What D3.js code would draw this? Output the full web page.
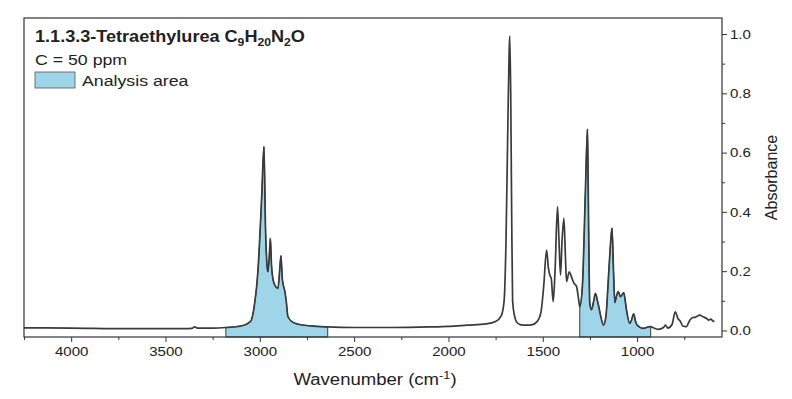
<!DOCTYPE html>
<html>
<head>
<meta charset="utf-8">
<script src="https://cdn.jsdelivr.net/npm/d3@7"></script>
<style>
    body { margin: 0; background: #fff; }
    text { font-family: "Liberation Sans", Arial, sans-serif; fill: #222; }
</style>
</head>
<body>
<div id="chart"></div>
<script>
// spectrum (wavenumber cm-1 / absorbance)
const wavenumbers = [4250, 4000, 3700, 3400, 3360, 3346, 3330, 3250, 3180, 3100, 3050, 3030, 3010, 2990, 2978,
    2970, 2962, 2957, 2950, 2944, 2938, 2925, 2904, 2895, 2888, 2880, 2867, 2860, 2851, 2830, 2800, 2700, 2640,
    2500, 2300, 2100, 2000, 1900, 1800, 1750, 1720, 1705, 1695, 1685, 1678, 1675, 1670, 1665, 1660, 1650, 1640,
    1620, 1590, 1560, 1530, 1510, 1495, 1480, 1470, 1463, 1455, 1445, 1435, 1422, 1414, 1406, 1398, 1388, 1380,
    1374, 1360, 1348, 1335, 1321, 1312, 1304, 1290, 1275, 1263, 1257, 1251, 1242, 1230, 1221, 1210, 1203, 1190,
    1178, 1165, 1150, 1140, 1133, 1125, 1118, 1110, 1100, 1088, 1071, 1063, 1056, 1039, 1030, 1018, 1008, 1000,
    968, 933, 889, 860, 850, 837, 815, 798, 784, 770, 758, 740, 720, 708, 690, 669, 650, 633, 620, 610, 598, 590];
const absorbance = [0.009, 0.008, 0.006, 0.006, 0.007, 0.012, 0.008, 0.008, 0.010, 0.015, 0.030, 0.080, 0.200, 0.450, 0.620,
    0.350, 0.220, 0.198, 0.250, 0.311, 0.220, 0.160, 0.142, 0.200, 0.252, 0.170, 0.131, 0.100, 0.047, 0.030, 0.022, 0.014, 0.012,
    0.010, 0.010, 0.012, 0.014, 0.018, 0.022, 0.030, 0.050, 0.100, 0.300, 0.700, 0.950, 0.993, 0.800, 0.400, 0.100, 0.050, 0.030,
    0.020, 0.018, 0.019, 0.030, 0.060, 0.150, 0.271, 0.210, 0.187, 0.175, 0.097, 0.200, 0.418, 0.300, 0.187, 0.300, 0.378, 0.250,
    0.165, 0.198, 0.181, 0.160, 0.148, 0.114, 0.080, 0.150, 0.450, 0.679, 0.350, 0.093, 0.070, 0.100, 0.125, 0.100, 0.080, 0.040,
    0.018, 0.050, 0.200, 0.300, 0.345, 0.200, 0.094, 0.115, 0.131, 0.114, 0.128, 0.100, 0.069, 0.024, 0.035, 0.056, 0.030, 0.018,
    0.007, 0.013, 0.004, 0.010, 0.018, 0.008, 0.020, 0.063, 0.041, 0.030, 0.015, 0.013, 0.035, 0.043, 0.045, 0.052, 0.046, 0.041, 0.035, 0.038, 0.032, 0.030];

// shaded analysis windows [from, to] in cm-1
const analysisAreas = [[3180, 2640], [1304, 928]];

const xTicks = [4000, 3500, 3000, 2500, 2000, 1500, 1000];
const yTicks = [0, 0.2, 0.4, 0.6, 0.8, 1.0];

const width = 792, height = 399;
const margin = {top: 18, right: 70, bottom: 62, left: 24};
const lineColor = '#3a3a3a', fillColor = '#9fd5e8';
// the source picture is a bit wider than tall, text included
const stretch = 1.16;

const spectrum = wavenumbers.map((w, i) => ({w: w, a: absorbance[i]}));

const svg = d3.select('#chart').append('svg')
    .attr('width', width)
    .attr('height', height);

const xScale = d3.scaleLinear()
    .domain([4250, 550])
    .range([margin.left, width - margin.right]);

const yScale = d3.scaleLinear()
    .domain([-0.022, 1.054])
    .range([height - margin.bottom, margin.top]);

// value of the curve at any wavenumber (linear between read points)
function absAt(w) {
    for (let i = 0; i < spectrum.length - 1; i++) {
        const p = spectrum[i], q = spectrum[i + 1];
        if (w <= p.w && w >= q.w) {
            return p.a + (q.a - p.a) * (p.w - w) / (p.w - q.w);
        }
    }
    return 0;
}

// text placed at (x,y) and widened like the source
function wideText(x, y, size) {
    return svg.append('g')
        .attr('transform', `translate(${x},${y}) scale(${stretch},1)`)
        .append('text')
        .attr('font-size', size);
}

// analysis areas
const area = d3.area()
    .x(d => xScale(d.w))
    .y0(yScale.range()[0])
    .y1(d => yScale(d.a))
    .curve(d3.curveMonotoneX);

analysisAreas.forEach(([from, to]) => {
    const pts = [{w: from, a: absAt(from)}]
        .concat(spectrum.filter(d => d.w < from && d.w > to))
        .concat([{w: to, a: absAt(to)}]);
    svg.append('path')
        .datum(pts)
        .attr('d', area)
        .attr('fill', fillColor)
        .attr('stroke', lineColor)
        .attr('stroke-width', 1);
});

// spectrum line
const line = d3.line()
    .x(d => xScale(d.w))
    .y(d => yScale(d.a))
    .curve(d3.curveMonotoneX);

svg.append('path')
    .datum(spectrum)
    .attr('d', line)
    .attr('fill', 'none')
    .attr('stroke', lineColor)
    .attr('stroke-width', 1.7)
    .attr('stroke-linejoin', 'round');

// frame
svg.append('rect')
    .attr('x', margin.left)
    .attr('y', margin.top)
    .attr('width', width - margin.left - margin.right)
    .attr('height', height - margin.top - margin.bottom)
    .attr('fill', 'none')
    .attr('stroke', '#333')
    .attr('stroke-width', 1.2);

// bottom axis, major + minor ticks
const xMinor = d3.range(4250, 549, -250).filter(v => v % 500 !== 0);
svg.append('g')
    .attr('transform', `translate(0,${height - margin.bottom})`)
    .call(d3.axisBottom(xScale).tickValues(xMinor).tickSize(3).tickFormat(''))
    .call(g => g.select('.domain').remove());

const gX = svg.append('g')
    .attr('class', 'x axis')
    .attr('transform', `translate(0,${height - margin.bottom})`)
    .call(d3.axisBottom(xScale).tickValues(xTicks).tickSize(5).tickPadding(5).tickFormat(d3.format('d')));
gX.select('.domain').remove();
gX.selectAll('text')
    .attr('font-size', 13)
    .attr('transform', `scale(${stretch},1)`)
    .style('fill', '#222');

// right axis
const yMinor = d3.range(0.1, 1.01, 0.2);
svg.append('g')
    .attr('transform', `translate(${width - margin.right},0)`)
    .call(d3.axisRight(yScale).tickValues(yMinor).tickSize(3).tickFormat(''))
    .call(g => g.select('.domain').remove());

const gY = svg.append('g')
    .attr('class', 'y axis')
    .attr('transform', `translate(${width - margin.right},0)`)
    .call(d3.axisRight(yScale).tickValues(yTicks).tickSize(5).tickPadding(3).tickFormat(d3.format('.1f')));
gY.select('.domain').remove();
gY.selectAll('text')
    .attr('font-size', 13)
    .attr('x', 8 / stretch)
    .attr('transform', `scale(${stretch},1)`)
    .style('fill', '#222');
svg.selectAll('.tick line').attr('stroke', '#333');

// axis titles
const xTitle = wideText(375, 385, 16).attr('text-anchor', 'middle');
xTitle.append('tspan').text('Wavenumber (cm');
xTitle.append('tspan').attr('font-size', 11).attr('dy', -6).text('-1');
xTitle.append('tspan').attr('dy', 6).text(')');

svg.append('text')
    .attr('transform', `translate(777,${(margin.top + height - margin.bottom) / 2}) rotate(-90)`)
    .attr('text-anchor', 'middle')
    .attr('font-size', 16)
    .text('Absorbance');

// legend block
const title = wideText(35, 42, 15.6).attr('font-weight', 'bold');
title.append('tspan').text('1.1.3.3-Tetraethylurea C');
[['9', 'H'], ['20', 'N'], ['2', 'O']].forEach(([sub, el]) => {
    title.append('tspan').attr('font-size', 10.5).attr('dy', 4).text(sub);
    title.append('tspan').attr('dy', -4).text(el);
});

wideText(35, 65, 15.3).text('C = 50 ppm');

svg.append('rect')
    .attr('x', 35)
    .attr('y', 72)
    .attr('width', 40)
    .attr('height', 16)
    .attr('fill', fillColor)
    .attr('stroke', '#555')
    .attr('stroke-width', 0.8);

wideText(82, 86, 15.3).text('Analysis area');
</script>
</body>
</html>
